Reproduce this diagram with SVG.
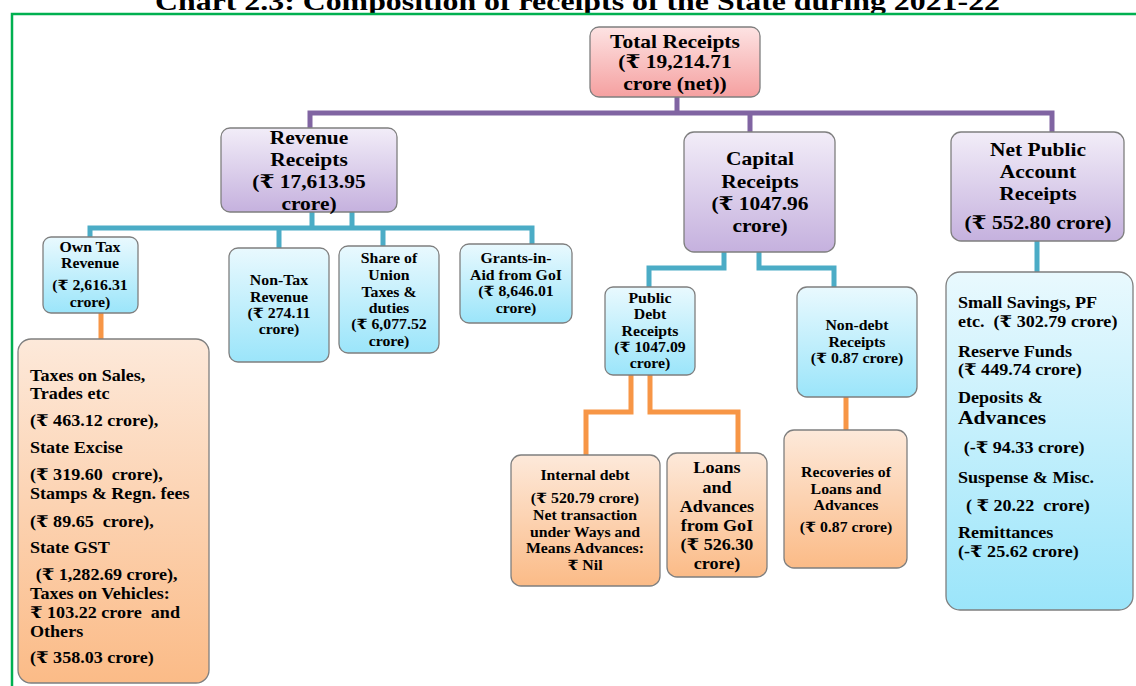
<svg xmlns="http://www.w3.org/2000/svg" width="1136" height="686" viewBox="0 0 1136 686">
<defs>
<linearGradient id="gPink" x1="0" y1="0" x2="0" y2="1"><stop offset="0" stop-color="#fde3e3"/><stop offset="1" stop-color="#f5a0a0"/></linearGradient>
<linearGradient id="gPurple" x1="0" y1="0" x2="0" y2="1"><stop offset="0" stop-color="#f2edf8"/><stop offset="1" stop-color="#c5b1de"/></linearGradient>
<linearGradient id="gCyan" x1="0" y1="0" x2="0" y2="1"><stop offset="0" stop-color="#e9f9fe"/><stop offset="1" stop-color="#9be5fa"/></linearGradient>
<linearGradient id="gOrange" x1="0" y1="0" x2="0" y2="1"><stop offset="0" stop-color="#fde9da"/><stop offset="1" stop-color="#fbbb87"/></linearGradient>
</defs>
<style>
.t{font-family:"Liberation Serif","DejaVu Serif","Noto Sans",serif;font-weight:bold;fill:#000;text-anchor:middle;transform-box:fill-box;transform-origin:center;transform:scaleX(1.13)}
.l{text-anchor:start;transform-origin:left center}
.box{stroke:#7f7f7f;stroke-width:1.3}
.pink{fill:url(#gPink)}
.pur{fill:url(#gPurple)}
.cy{fill:url(#gCyan)}
.or{fill:url(#gOrange)}
.f19{font-size:19px}
.f16{font-size:16px}
.f14{font-size:14px}
.cp{fill:none;stroke:#8064a2;stroke-width:5}
.ct{fill:none;stroke:#4bacc6;stroke-width:5}
.co{fill:none;stroke:#f79646;stroke-width:5}
</style>
<rect width="1136" height="686" fill="#ffffff"/>
<text x="155" y="10" font-family="Liberation Serif, serif" font-weight="bold" font-size="26" text-anchor="start" textLength="845" lengthAdjust="spacingAndGlyphs">Chart 2.3: Composition of receipts of the State during 2021-22</text>
<path d="M12,686 V14 H1136" fill="none" stroke="#00b050" stroke-width="2.5"/>

<g id="connectors">
<path class="cp" d="M310,129 V113 H1052 V132 M677,97 V113 M750,113 V132"/>
<path class="ct" d="M90,237 V228 H532 V244 M312,212 V228 M352,212 V228 M279,228 V248 M383,228 V246"/>
<path class="ct" d="M724,252 V268 H649 V288 M759,252 V268 H834 V288 M1037,241 V272"/>
<path class="co" d="M101,313 V340 M631,375 V412 H586 V455 M650,375 V412 H738 V453 M846,397 V430"/>
</g>

<g id="total">
<rect class="box pink" x="590" y="27" width="170" height="70" rx="9"/>
<text class="t f19"><tspan x="675" y="48">Total Receipts</tspan><tspan x="675" y="68">(₹ 19,214.71</tspan><tspan x="675" y="90">crore (net))</tspan></text>
</g>

<g id="revenue">
<rect class="box pur" x="221" y="128" width="176" height="84" rx="9"/>
<text class="t f19"><tspan x="309" y="144">Revenue</tspan><tspan x="309" y="166">Receipts</tspan><tspan x="309" y="188">(₹ 17,613.95</tspan><tspan x="309" y="210">crore)</tspan></text>
</g>

<g id="capital">
<rect class="box pur" x="684" y="132" width="151" height="120" rx="10"/>
<text class="t f19"><tspan x="760" y="165">Capital</tspan><tspan x="760" y="188">Receipts</tspan><tspan x="760" y="210">(₹ 1047.96</tspan><tspan x="760" y="232">crore)</tspan></text>
</g>

<g id="netpublic">
<rect class="box pur" x="951" y="132" width="173" height="109" rx="10"/>
<text class="t f19"><tspan x="1038" y="156">Net Public</tspan><tspan x="1038" y="178">Account</tspan><tspan x="1038" y="200">Receipts</tspan><tspan x="1038" y="229">(₹ 552.80 crore)</tspan></text>
</g>

<g id="owntax">
<rect class="box cy" x="43" y="237" width="95" height="76" rx="8"/>
<text class="t f14"><tspan x="90" y="252">Own Tax</tspan><tspan x="90" y="268">Revenue</tspan><tspan x="90" y="290">(₹ 2,616.31</tspan><tspan x="90" y="307">crore)</tspan></text>
</g>

<g id="nontax">
<rect class="box cy" x="229" y="248" width="100" height="114" rx="9"/>
<text class="t f14"><tspan x="279" y="285">Non-Tax</tspan><tspan x="279" y="302">Revenue</tspan><tspan x="279" y="318">(₹ 274.11</tspan><tspan x="279" y="334">crore)</tspan></text>
</g>

<g id="share">
<rect class="box cy" x="339" y="246" width="100" height="107" rx="9"/>
<text class="t f14"><tspan x="389" y="263">Share of</tspan><tspan x="389" y="280">Union</tspan><tspan x="389" y="297">Taxes &amp;</tspan><tspan x="389" y="313">duties</tspan><tspan x="389" y="329">(₹ 6,077.52</tspan><tspan x="389" y="346">crore)</tspan></text>
</g>

<g id="grants">
<rect class="box cy" x="460" y="244" width="112" height="79" rx="9"/>
<text class="t f14"><tspan x="516" y="263">Grants-in-</tspan><tspan x="516" y="280">Aid from GoI</tspan><tspan x="516" y="296">(₹ 8,646.01</tspan><tspan x="516" y="313">crore)</tspan></text>
</g>

<g id="taxlist">
<rect class="box or" x="18" y="339" width="191" height="344" rx="13"/>
<text class="t l f16"><tspan x="30" y="381">Taxes on Sales,</tspan><tspan x="30" y="399">Trades etc</tspan><tspan x="30" y="426">(₹ 463.12 crore),</tspan><tspan x="30" y="453">State Excise</tspan><tspan x="30" y="480">(₹ 319.60 &#160;crore),</tspan><tspan x="30" y="499">Stamps &amp; Regn. fees</tspan><tspan x="30" y="527">(₹ 89.65 &#160;crore),</tspan><tspan x="30" y="553">State GST</tspan><tspan x="35" y="580">(₹ 1,282.69 crore),</tspan><tspan x="30" y="599">Taxes on Vehicles:</tspan><tspan x="30" y="618">₹ 103.22 crore &#160;and</tspan><tspan x="30" y="637">Others</tspan><tspan x="30" y="663">(₹ 358.03 crore)</tspan></text>
</g>

<g id="publicdebt">
<rect class="box cy" x="605" y="287" width="90" height="88" rx="8"/>
<text class="t f14"><tspan x="650" y="303">Public</tspan><tspan x="650" y="319">Debt</tspan><tspan x="650" y="336">Receipts</tspan><tspan x="650" y="352">(₹ 1047.09</tspan><tspan x="650" y="368">crore)</tspan></text>
</g>

<g id="nondebt">
<rect class="box cy" x="797" y="287" width="120" height="110" rx="10"/>
<text class="t f14"><tspan x="857" y="330">Non-debt</tspan><tspan x="857" y="347">Receipts</tspan><tspan x="857" y="363">(₹ 0.87 crore)</tspan></text>
</g>

<g id="internal">
<rect class="box or" x="511" y="455" width="149" height="131" rx="10"/>
<text class="t f14"><tspan x="585" y="480">Internal debt</tspan><tspan x="585" y="503">(₹ 520.79 crore)</tspan><tspan x="585" y="520">Net transaction</tspan><tspan x="585" y="537">under Ways and</tspan><tspan x="585" y="553">Means Advances:</tspan><tspan x="585" y="570">₹ Nil</tspan></text>
</g>

<g id="loans">
<rect class="box or" x="667" y="453" width="100" height="124" rx="10"/>
<text class="t f16"><tspan x="717" y="473">Loans</tspan><tspan x="717" y="493">and</tspan><tspan x="717" y="512">Advances</tspan><tspan x="717" y="531">from GoI</tspan><tspan x="717" y="550">(₹ 526.30</tspan><tspan x="717" y="569">crore)</tspan></text>
</g>

<g id="recoveries">
<rect class="box or" x="784" y="430" width="123" height="138" rx="10"/>
<text class="t f14"><tspan x="846" y="477">Recoveries of</tspan><tspan x="846" y="494">Loans and</tspan><tspan x="846" y="510">Advances</tspan><tspan x="846" y="532">(₹ 0.87 crore)</tspan></text>
</g>

<g id="publiclist">
<rect class="box cy" x="946" y="272" width="187" height="338" rx="14"/>
<text class="t l f16"><tspan x="958" y="308">Small Savings, PF</tspan><tspan x="958" y="327">etc. &#160;(₹ 302.79 crore)</tspan><tspan x="958" y="357">Reserve Funds</tspan><tspan x="958" y="375">(₹ 449.74 crore)</tspan><tspan x="958" y="403">Deposits &amp;</tspan><tspan x="958" y="424" style="font-size:19px">Advances</tspan><tspan x="963" y="453">(-₹ 94.33 crore)</tspan><tspan x="958" y="483">Suspense &amp; Misc.</tspan><tspan x="965" y="511">( ₹ 20.22 &#160;crore)</tspan><tspan x="958" y="538">Remittances</tspan><tspan x="958" y="557">(-₹ 25.62 crore)</tspan></text>
</g>
</svg>
